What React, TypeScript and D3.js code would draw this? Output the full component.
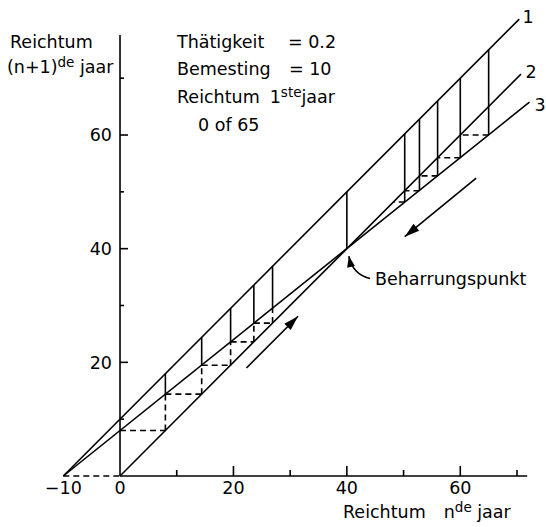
import React from 'react';
import * as d3 from 'd3';

// ---- data ----
const xTickLabels = ['-10', '0', '20', '40', '60'];
const xTickLabelValues = [-10, 0, 20, 40, 60];
const yTickLabelValues = [20, 40, 60];
const majorTicks = [20, 40, 60];
const minorTicks = [10, 30, 50, 70];
const line1: [number, number][] = [[-10, 0], [70.4, 80.4]];
const line2: [number, number][] = [[0, 0], [70.7, 70.7]];
const line3: [number, number][] = [[-10, 0], [72.2, 65.8]];
const lineLabels = ['1', '2', '3'];
const leftSteps = [0, 8, 14.4, 19.5, 23.6, 26.9, 29.5];
const leftTops = [10, 18, 24.4, 29.5, 33.6, 36.9];
const rightSteps = [65, 60, 56, 52.8, 50.2, 48.2];
const rightTops = [75, 70, 66, 62.8, 60.2];
const fixedPoint = { x: 40, y: 40, top: 50 };
const leftArrow: [number, number][] = [[22.3, 19], [31.4, 28.1]];
const rightArrow: [number, number][] = [[62.8, 52.4], [50.2, 42.1]];
const pointerArrow: [number, number][] = [[44.1, 34.75], [41.0, 35.5], [40.35, 38.7]];

const W = 546;
const H = 527;
const FONT = 'DejaVu Sans';

export default function App() {
  const x = d3.scaleLinear().domain([-10, 70]).range([63.3, 517]);
  const y = d3.scaleLinear().domain([0, 60]).range([476, 135]);
  const line = d3.line<[number, number]>().x(d => x(d[0])).y(d => y(d[1]));
  const sw = 1.6;
  const dash = '6,4';

  const head = (from: [number, number], to: [number, number], len = 15, hw = 4.5) => {
    const x1 = x(from[0]), y1 = y(from[1]), x2 = x(to[0]), y2 = y(to[1]);
    const dx = x2 - x1, dy = y2 - y1;
    const L = Math.hypot(dx, dy);
    const ux = dx / L, uy = dy / L;
    const bx = x2 - ux * len, by = y2 - uy * len;
    return `${x2},${y2} ${bx - uy * hw},${by + ux * hw} ${bx + uy * hw},${by - ux * hw}`;
  };

  const segs: JSX.Element[] = [];
  // left staircase
  for (let i = 0; i < leftSteps.length - 1; i++) {
    const xi = leftSteps[i], xn = leftSteps[i + 1];
    if (i > 0) {
      segs.push(<line key={`ld${i}`} x1={x(xi)} x2={x(xi)} y1={y(xi)} y2={y(xn)} stroke="#000" strokeWidth={sw} strokeDasharray={dash} />);
      segs.push(<line key={`ls${i}`} x1={x(xi)} x2={x(xi)} y1={y(xn)} y2={y(leftTops[i])} stroke="#000" strokeWidth={sw} />);
    }
    if (i < leftSteps.length - 2) {
      segs.push(<line key={`lh${i}`} x1={x(xi)} x2={x(xn)} y1={y(xn)} y2={y(xn)} stroke="#000" strokeWidth={sw} strokeDasharray={dash} />);
    }
  }
  // right staircase
  for (let i = 0; i < rightSteps.length - 1; i++) {
    const xi = rightSteps[i], xn = rightSteps[i + 1];
    segs.push(<line key={`rs${i}`} x1={x(xi)} x2={x(xi)} y1={y(xn)} y2={y(rightTops[i])} stroke="#000" strokeWidth={sw} />);
    segs.push(<line key={`rh${i}`} x1={x(xi)} x2={x(xn)} y1={y(xn)} y2={y(xn)} stroke="#000" strokeWidth={sw} strokeDasharray={dash} />);
  }

  const pointerPath = `M${x(pointerArrow[0][0])},${y(pointerArrow[0][1])} Q${x(pointerArrow[1][0])},${y(pointerArrow[1][1])} ${x(pointerArrow[2][0])},${y(pointerArrow[2][1])}`;

  return (
    <svg width={W} height={H} viewBox={`0 0 ${W} ${H}`} style={{ position: 'absolute', left: 0, top: 0, background: '#fff' }} fontFamily={FONT} fontSize={17.5}>
      <rect x={0} y={0} width={W} height={H} fill="#fff" />
      {/* axes */}
      <line x1={x(0)} x2={x(0)} y1={y(0)} y2={y(77.6)} stroke="#000" strokeWidth={sw} />
      <line x1={x(0)} x2={x(71.8)} y1={y(0)} y2={y(0)} stroke="#000" strokeWidth={sw} />
      <line x1={x(-10)} x2={x(0)} y1={y(0)} y2={y(0)} stroke="#000" strokeWidth={sw} strokeDasharray={dash} />
      {majorTicks.map(t => <line key={`xM${t}`} x1={x(t)} x2={x(t)} y1={y(0)} y2={y(0) - 10} stroke="#000" strokeWidth={sw} />)}
      {minorTicks.map(t => <line key={`xm${t}`} x1={x(t)} x2={x(t)} y1={y(0)} y2={y(0) - 6} stroke="#000" strokeWidth={sw} />)}
      {majorTicks.map(t => <line key={`yM${t}`} x1={x(0)} x2={x(0) + 8} y1={y(t)} y2={y(t)} stroke="#000" strokeWidth={sw} />)}
      {minorTicks.map(t => <line key={`ym${t}`} x1={x(0)} x2={x(0) + 4} y1={y(t)} y2={y(t)} stroke="#000" strokeWidth={sw} />)}
      {xTickLabelValues.map((v, i) => (
        <text key={`xl${v}`} x={x(v)} y={494} textAnchor="middle">{xTickLabels[i].replace('-', '\u2212')}</text>
      ))}
      {yTickLabelValues.map(v => (
        <text key={`yl${v}`} x={x(0) - 8} y={y(v)} dy="0.36em" textAnchor="end">{v}</text>
      ))}
      {/* model lines */}
      <path d={line(line1) || ''} stroke="#000" strokeWidth={sw} fill="none" />
      <path d={line(line2) || ''} stroke="#000" strokeWidth={sw} fill="none" />
      <path d={line(line3) || ''} stroke="#000" strokeWidth={sw} fill="none" />
      <text x={528} y={23} textAnchor="middle">{lineLabels[0]}</text>
      <text x={531} y={78} textAnchor="middle">{lineLabels[1]}</text>
      <text x={540} y={111} textAnchor="middle">{lineLabels[2]}</text>
      {segs}
      <line x1={x(fixedPoint.x)} x2={x(fixedPoint.x)} y1={y(fixedPoint.y)} y2={y(fixedPoint.top)} stroke="#000" strokeWidth={sw} />
      {/* arrows */}
      <line x1={x(leftArrow[0][0])} y1={y(leftArrow[0][1])} x2={x(leftArrow[1][0])} y2={y(leftArrow[1][1])} stroke="#000" strokeWidth={sw} />
      <polygon points={head(leftArrow[0], leftArrow[1])} fill="#000" />
      <line x1={x(rightArrow[0][0])} y1={y(rightArrow[0][1])} x2={x(rightArrow[1][0])} y2={y(rightArrow[1][1])} stroke="#000" strokeWidth={sw} />
      <polygon points={head(rightArrow[0], rightArrow[1])} fill="#000" />
      <path d={pointerPath} stroke="#000" strokeWidth={sw} fill="none" />
      <polygon points={head(pointerArrow[1], pointerArrow[2], 11, 4)} fill="#000" />
      <text x={375} y={285}>Beharrungspunkt</text>
      {/* y title */}
      <text x={10} y={48}>Reichtum</text>
      <text x={7} y={73}>(n+1)<tspan dy={-6} fontSize={13.5}>de</tspan><tspan dy={6}> jaar</tspan></text>
      {/* x title */}
      <text x={343} y={518}>Reichtum<tspan dx={18}>n</tspan><tspan dy={-6} fontSize={13.5}>de</tspan><tspan dy={6}> jaar</tspan></text>
      {/* parameters */}
      <text x={177} y={48}>Thätigkeit</text>
      <text x={288} y={48}>= 0.2</text>
      <text x={177} y={75}>Bemesting</text>
      <text x={289} y={75}>= 10</text>
      <text x={177} y={103}>Reichtum<tspan dx={10}>1</tspan><tspan dy={-6} fontSize={13.5}>ste</tspan><tspan dy={6}>jaar</tspan></text>
      <text x={198} y={131}>0 of 65</text>
    </svg>
  );
}
